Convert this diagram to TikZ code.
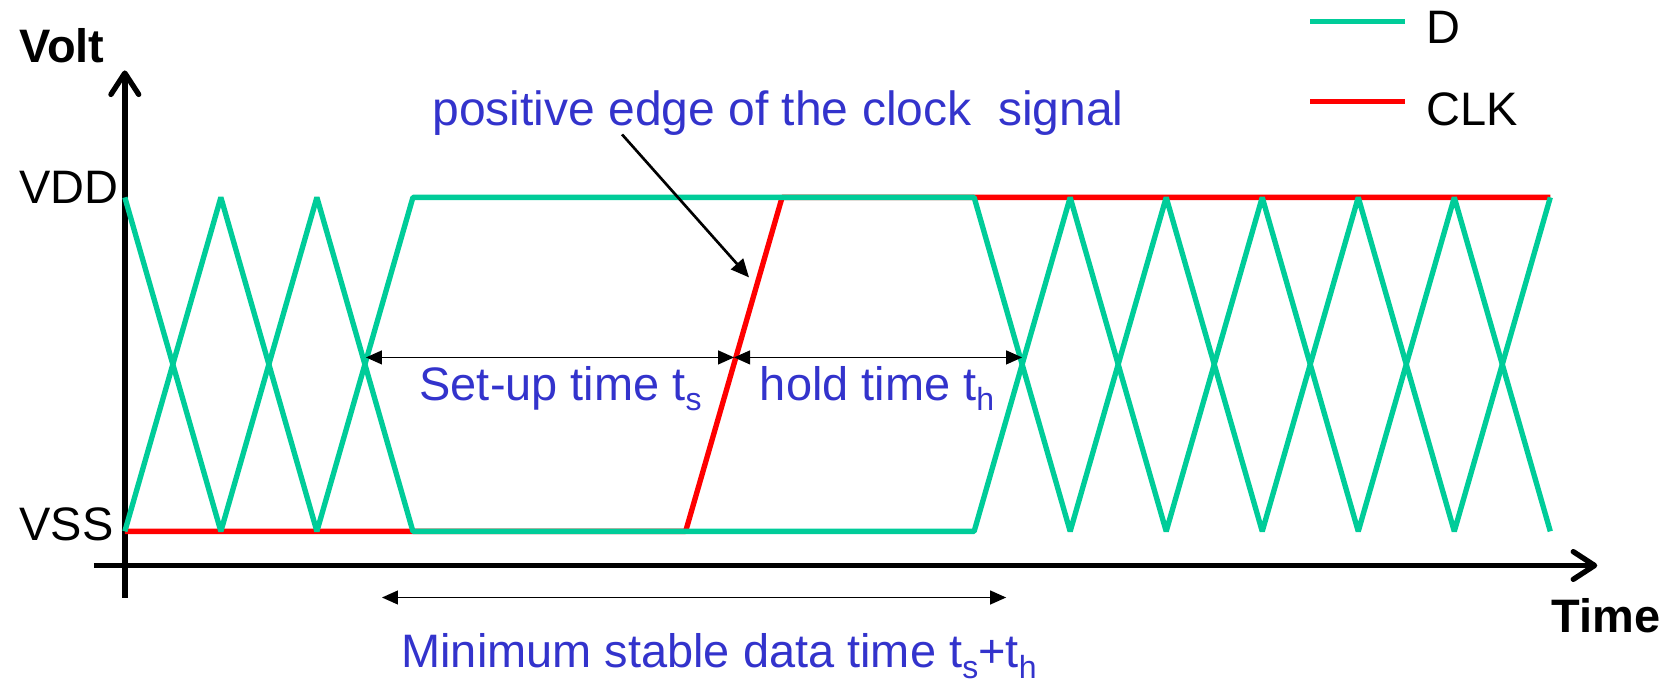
\documentclass[tikz,border=0pt]{standalone}
\usepackage{fontspec}
\setmainfont{Liberation Sans}
\usetikzlibrary{arrows.meta}
\definecolor{dgreen}{RGB}{0,204,153}
\definecolor{lblue}{RGB}{51,51,204}
\newcommand{\lowsub}[1]{\raisebox{-10pt}{\fontsize{30}{30}\selectfont #1}}
\begin{document}
\begin{tikzpicture}[x=1pt,y=-1pt,
  font=\fontsize{44}{52}\selectfont,
  sig/.style={line width=5pt, line join=bevel},
  dsig/.style={sig, draw=dgreen},
  csig/.style={sig, draw=red},
  axis/.style={line width=5pt, -{Straight Barb[length=20pt,width=26pt,line cap=round,line join=round]}},
  dim/.style={line width=1.5pt, {Triangle[length=15pt,width=13pt]}-{Triangle[length=15pt,width=13pt]}},
  ptr/.style={line width=2.5pt, -{Triangle[length=17pt,width=15pt]}},
  lbl/.style={anchor=base west, inner sep=0pt},
  blbl/.style={lbl, text=lblue}]
\useasboundingbox (0,0) rectangle (1568,639);

% axes
\coordinate (yb) at (117,560);
\coordinate (yt) at (117,66);
\coordinate (xl) at (88,530);
\coordinate (xr) at (1497,530);
\draw[axis] (yb) -- (yt);
\draw[axis] (xl) -- (xr);

% axis labels
\node[lbl] (volt) at (18,59) {\textbf{Volt}};
\node[lbl] (vdd) at (18,191) {VDD};
\node[lbl] (vss) at (18,507) {VSS};
\node[lbl] (time) at (1454,593) {\textbf{Time}};

% legend
\coordinate (lg1) at (1228,20);
\coordinate (lg2) at (1317,20);
\coordinate (lr1) at (1228,95);
\coordinate (lr2) at (1317,95);
\draw[dsig] (lg1) -- (lg2);
\draw[csig] (lr1) -- (lr2);
\node[lbl] (legD) at (1337,41) {D};
\node[lbl] (legC) at (1337,118) {CLK};

% CLK signal
\draw[csig] (117,498) -- (642.6,498) -- (733,185) -- (1453,185);

% D signal
\draw[dsig] (117,185) -- (207,498) -- (297,185) -- (387,498) -- (913,498)
  -- (1003,185) -- (1093,498) -- (1183,185) -- (1273,498) -- (1363,185) -- (1453,498);
\draw[dsig] (117,498) -- (207,185) -- (297,498) -- (387,185) -- (913,185)
  -- (1003,498) -- (1093,185) -- (1183,498) -- (1273,185) -- (1363,498) -- (1453,185);

% timing arrows
\coordinate (su1) at (343,335);
\coordinate (edge) at (688,335);
\coordinate (ho2) at (958,335);
\draw[dim] (su1) -- (edge);
\draw[dim] (edge) -- (ho2);
\coordinate (mn1) at (358,560);
\coordinate (mn2) at (943,560);
\draw[dim] (mn1) -- (mn2);

\node[blbl] (setup) at (393,375) {Set-up time t\lowsub{s}};
\node[blbl] (hold) at (712,375) {hold time t\lowsub{h}};
\node[blbl] (minst) at (376,626) {Minimum stable data time t\lowsub{s}+t\lowsub{h}};

% positive edge pointer
\node[blbl, font=\fontsize{45}{52}\selectfont] (pos) at (405,118) {positive edge of the clock\ \ signal};
\coordinate (p1) at (583,126);
\coordinate (p2) at (702,260);
\draw[ptr] (p1) -- (p2);
\end{tikzpicture}
\end{document}
